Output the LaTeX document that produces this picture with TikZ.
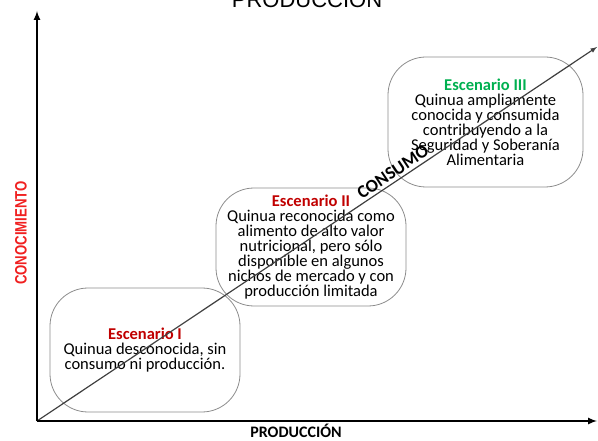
\documentclass[tikz,border=0pt]{standalone}
\usepackage{fontspec}
\setmainfont{Carlito}
\newfontfamily\arialfont{Liberation Sans}
\newfontfamily\narrowfont{Liberation Sans}[FakeStretch=0.8]
\usetikzlibrary{positioning}
\definecolor{esc-red}{HTML}{C00000}
\definecolor{esc-green}{HTML}{00B050}
\definecolor{axis-red}{HTML}{F02020}
\colorlet{box}{black!45}
\colorlet{diag}{black!75}

\begin{document}
\begin{tikzpicture}[
  x=1pt, y=-1pt,
  scenario/.style={draw=box, line width=.8pt, rounded corners=38pt, align=center, inner sep=0pt, font=\fontsize{16.5}{15}\selectfont},
  axis/.style={line width=2pt, -latex},
  label/.style={font=\bfseries\fontsize{16}{16}\selectfont}
]
\useasboundingbox (0,0) rectangle (598,441);
\clip (0,0) rectangle (598,441);

% Title (cut off)
\node[anchor=base, font=\arialfont\fontsize{22}{22}\selectfont] (title) at (307,7.5) {PRODUCCIÓN};

% Scenarios
\node[scenario, minimum width=190pt, minimum height=124pt] (esc1) at (145,350) {%
\textcolor{esc-red}{\textbf{Escenario I}}\\Quinua desconocida, sin\\consumo ni producción.};
\node[scenario, minimum width=190pt, minimum height=118pt] (esc2) at (311,247) {%
\textcolor{esc-red}{\textbf{Escenario II}}\\Quinua reconocida como\\alimento de alto valor\\nutricional, pero sólo\\disponible en algunos\\nichos de mercado y con\\producción limitada};
\node[scenario, minimum width=195pt, minimum height=130pt] (esc3) at (485.5,122) {%
\textcolor{esc-green}{\textbf{Escenario III}}\\Quinua ampliamente\\conocida y consumida\\contribuyendo a la\\Seguridad y Soberanía\\Alimentaria};

% Axes
\coordinate (origin) at (37,421);
\coordinate (ytip) at (37,11);
\coordinate (xtip) at (597,421);
\coordinate (ztip) at (597,47);
\draw[diag, line width=1.2pt, -latex] (origin) -- node[pos=.645, sloped, above, inner sep=3pt, text=black, font=\bfseries\fontsize{18}{18}\selectfont] (consumo) {CONSUMO} (ztip);
\draw[axis] (origin) -- (ytip);
\draw[axis] (origin) -- (xtip);

% Axis labels
\node[rotate=90, text=axis-red, font=\narrowfont\bfseries\fontsize{16.5}{16.5}\selectfont] (ylabel) at (21,233) {CONOCIMIENTO};
\node[label, anchor=base] (xlabel) at (296,437) {PRODUCCIÓN};
\end{tikzpicture}
\end{document}
